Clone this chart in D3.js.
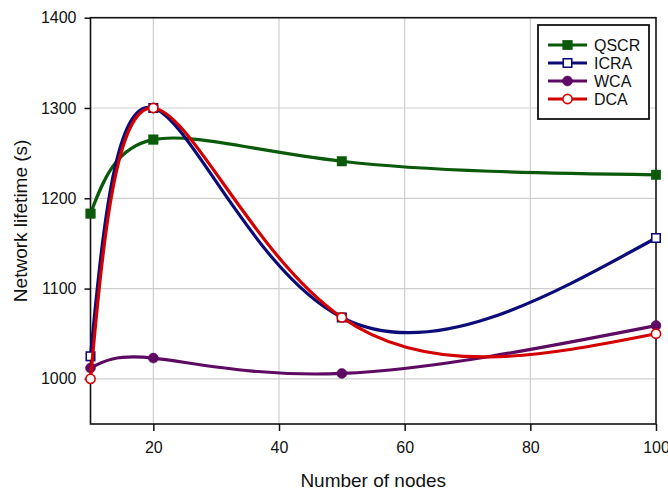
<!DOCTYPE html>
<html>
<head>
<meta charset="utf-8">
<script src="https://cdn.jsdelivr.net/npm/d3@7"></script>
<style>
  html, body { margin: 0; padding: 0; background: #fff; }
  svg { display: block; font-family: "Liberation Sans", Arial, sans-serif; }
</style>
</head>
<body>
<svg id="chart" width="668" height="492"></svg>
<script>
// Network lifetime versus number of nodes
const nodes = [10, 20, 50, 100];
const qscr = [1183, 1265, 1241, 1226];
const icra = [1025, 1300, 1068, 1156];
const wca  = [1012, 1023, 1006, 1059];
const dca  = [1000, 1300, 1068, 1050];

const seriesNames = ["QSCR", "ICRA", "WCA", "DCA"];
const xTicks = [20, 40, 60, 80, 100];
const yTicks = [1000, 1100, 1200, 1300, 1400];

const series = [
  { name: seriesNames[0], values: qscr, color: "#0b5a0b", marker: "square", filled: true },
  { name: seriesNames[1], values: icra, color: "#0c0c78", marker: "square", filled: false },
  { name: seriesNames[2], values: wca,  color: "#5e0a62", marker: "circle", filled: true },
  { name: seriesNames[3], values: dca,  color: "#d40000", marker: "circle", filled: false }
];

const svg = d3.select("#chart");
const plotLeft = 90.5, plotRight = 656, plotTop = 17.7, plotBottom = 424;

const x = d3.scaleLinear().domain([10, 100]).range([plotLeft, plotRight]);
const y = d3.scaleLinear().domain([950, 1400]).range([plotBottom, plotTop]);

// grid
const grid = svg.append("g").attr("stroke", "#cfcfcf").attr("stroke-width", 1.2);
grid.selectAll("line.v").data(xTicks.filter(d => d < 100)).join("line")
  .attr("class", "v")
  .attr("x1", d => x(d)).attr("x2", d => x(d))
  .attr("y1", plotTop).attr("y2", plotBottom);
grid.selectAll("line.h").data(yTicks.filter(d => d < 1400)).join("line")
  .attr("class", "h")
  .attr("x1", plotLeft).attr("x2", plotRight)
  .attr("y1", d => y(d)).attr("y2", d => y(d));

// axes
const fmt = d3.format("d");
const xAxis = svg.append("g").attr("transform", `translate(0,${plotBottom})`)
  .call(d3.axisBottom(x).tickValues(xTicks).tickFormat(fmt).tickSize(7).tickPadding(11));
const yAxis = svg.append("g").attr("transform", `translate(${plotLeft},0)`)
  .call(d3.axisLeft(y).tickValues(yTicks).tickFormat(fmt).tickSize(6).tickPadding(8));
[xAxis, yAxis].forEach(a => {
  a.select(".domain").remove();
  a.selectAll(".tick line").attr("stroke", "#111").attr("stroke-width", 1.5);
  a.selectAll(".tick text").attr("fill", "#111").style("font-size", "16px")
    .style("font-family", "'Liberation Sans', Arial, sans-serif");
});

// frame
svg.append("rect")
  .attr("x", plotLeft).attr("y", plotTop)
  .attr("width", plotRight - plotLeft).attr("height", plotBottom - plotTop)
  .attr("fill", "none").attr("stroke", "#111").attr("stroke-width", 1.6);

// axis titles
svg.append("text")
  .attr("x", (plotLeft + plotRight) / 2).attr("y", 487)
  .attr("text-anchor", "middle").attr("fill", "#111")
  .style("font-size", "19px").text("Number of nodes");
svg.append("text")
  .attr("transform", `translate(27,${(plotTop + plotBottom) / 2}) rotate(-90)`)
  .attr("text-anchor", "middle").attr("fill", "#111")
  .style("font-size", "19px").text("Network lifetime (s)");

// curves
const line = d3.line()
  .x(d => x(d[0])).y(d => y(d[1]))
  .curve(d3.curveNatural);

function drawMarker(g, s, cx, cy) {
  const fill = s.filled ? s.color : "#fff";
  if (s.marker === "square") {
    const sz = s.filled ? 9.5 : 8.5;
    g.append("rect").attr("x", cx - sz / 2).attr("y", cy - sz / 2)
      .attr("width", sz).attr("height", sz)
      .attr("fill", fill).attr("stroke", s.color).attr("stroke-width", s.filled ? 0.5 : 1.6);
  } else {
    g.append("circle").attr("cx", cx).attr("cy", cy).attr("r", s.filled ? 5 : 4.6)
      .attr("fill", fill).attr("stroke", s.color).attr("stroke-width", s.filled ? 0.5 : 1.6);
  }
}

const plot = svg.append("g");
series.forEach(s => {
  const pts = nodes.map((n, i) => [n, s.values[i]]);
  const g = plot.append("g");
  g.append("path").attr("d", line(pts))
    .attr("fill", "none").attr("stroke", s.color).attr("stroke-width", 3.2)
    .attr("stroke-linejoin", "round");
  pts.forEach(p => drawMarker(g, s, x(p[0]), y(p[1])));
});

// legend
const lg = svg.append("g");
lg.append("rect").attr("x", 538).attr("y", 25).attr("width", 111).attr("height", 94)
  .attr("fill", "#fff").attr("stroke", "#111").attr("stroke-width", 1.8);
series.forEach((s, i) => {
  const cy = 45 + i * 18;
  lg.append("line").attr("x1", 548).attr("x2", 587).attr("y1", cy).attr("y2", cy)
    .attr("stroke", s.color).attr("stroke-width", 3.2);
  drawMarker(lg, s, 567.5, cy);
  lg.append("text").attr("x", 594).attr("y", cy + 5.8).attr("fill", "#111")
    .style("font-size", "16px").text(s.name);
});
</script>
</body>
</html>
